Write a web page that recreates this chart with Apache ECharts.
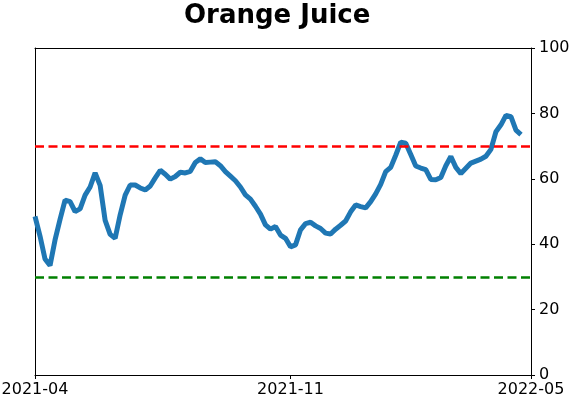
<!DOCTYPE html>
<html>
<head>
<meta charset="utf-8">
<script src="https://cdn.jsdelivr.net/npm/echarts@6/dist/echarts.min.js"></script>
<style>
    html, body { margin: 0; padding: 0; background: #fff; }
    #main { width: 571px; height: 402px; }
</style>
</head>
<body>
<div id="main"></div>
<script>
// x positions are point indices; ticks at these indices
const xTickIdx = [0, 51, 99];
const xTickLabels = ['2021-04', '2021-11', '2022-05'];

// indicator readings
const values = [
    48.5, 42.5, 35.5, 33.5, 41.3, 47.6, 53.5, 53.0, 50.0, 50.8,
    55.0, 57.5, 61.8, 58.0, 47.3, 43.0, 41.8, 49.0, 55.0, 58.1,
    58.1, 57.2, 56.6, 57.8, 60.3, 62.6, 61.4, 59.9, 60.7, 62.0,
    61.8, 62.3, 65.0, 66.1, 65.0, 65.1, 65.2, 64.0, 62.2, 60.8,
    59.4, 57.5, 55.1, 53.8, 51.6, 49.2, 45.9, 44.6, 45.4, 42.8,
    41.8, 39.2, 39.8, 44.4, 46.3, 46.7, 45.6, 44.8, 43.4, 43.1,
    44.6, 45.8, 47.1, 49.9, 52.0, 51.5, 51.1, 53.0, 55.4, 58.3,
    62.2, 63.5, 67.2, 71.2, 70.9, 67.4, 63.9, 63.3, 62.8, 59.8,
    59.7, 60.4, 64.0, 66.8, 63.5, 61.6, 63.2, 64.8, 65.4, 66.0,
    66.9, 69.0, 74.4, 76.5, 79.4, 79.0, 74.9, 73.5
];

const upperLevel = 70;
const lowerLevel = 30;

const yTicks = { min: 0, max: 100, step: 20 };

const myChart = echarts.init(document.getElementById('main'));

// plain frame line for the other two sides
const frameAxis = {
    axisLine: { show: true, onZero: false, lineStyle: { color: '#000', width: 1 } },
    axisTick: { show: false },
    axisLabel: { show: false },
    splitLine: { show: false }
};

const option = {
    animation: false,
    backgroundColor: '#fff',
    textStyle: { fontFamily: 'DejaVu Sans' },
    title: {
        text: 'Orange Juice',
        left: 179,
        top: -2,
        textStyle: {
            fontFamily: 'DejaVu Sans',
            fontWeight: 'bold',
            fontSize: 26,
            color: '#000'
        }
    },
    grid: {
        left: 35,
        right: 40,
        top: 48,
        bottom: 27,
        containLabel: false,
        outerBoundsMode: 'none',
        show: false
    },
    xAxis: [
        {
            type: 'value',
            min: xTickIdx[0],
            max: xTickIdx[2],
            interval: xTickIdx[1],
            axisLine: { onZero: false, lineStyle: { color: '#000', width: 1 } },
            axisTick: { show: true, length: 4, lineStyle: { color: '#000' } },
            splitLine: { show: false },
            axisLabel: {
                color: '#000',
                fontSize: 16,
                margin: 7,
                formatter: function (v) {
                    const k = xTickIdx.indexOf(Math.round(v));
                    return k >= 0 ? xTickLabels[k] : '';
                }
            }
        },
        Object.assign({ type: 'value', position: 'top', min: 0, max: 1 }, frameAxis)
    ],
    yAxis: [
        {
            type: 'value',
            position: 'right',
            min: yTicks.min,
            max: yTicks.max,
            interval: yTicks.step,
            axisLine: { show: true, onZero: false, lineStyle: { color: '#000', width: 1 } },
            axisTick: { show: true, length: 4, lineStyle: { color: '#000' } },
            splitLine: { show: false },
            axisLabel: { color: '#000', fontSize: 16, margin: 8 }
        },
        Object.assign({ type: 'value', position: 'left', min: 0, max: 1 }, frameAxis)
    ],
    series: [
        {
            type: 'line',
            data: values.map((v, i) => [i, v]),
            showSymbol: false,
            symbol: 'none',
            lineStyle: { color: '#1f77b4', width: 5 },
            z: 3,
            markLine: {
                silent: true,
                symbol: 'none',
                label: { show: false },
                data: [
                    { yAxis: upperLevel, lineStyle: { color: '#ff0000', width: 2.5, type: [9, 4.5] } },
                    { yAxis: lowerLevel, lineStyle: { color: '#008000', width: 2.5, type: [9, 4.5] } }
                ]
            }
        }
    ]
};

myChart.setOption(option);
</script>
</body>
</html>
